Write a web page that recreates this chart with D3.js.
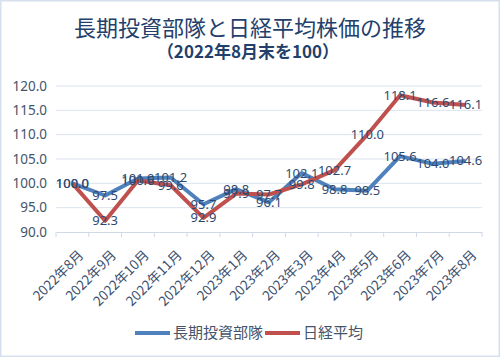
<!DOCTYPE html>
<html><head><meta charset="utf-8">
<script src="https://cdn.jsdelivr.net/npm/d3@7"></script>
<style>body{margin:0;background:#fff;}svg{display:block;font-family:"Noto Sans CJK JP","Noto Sans",sans-serif;}</style>
</head><body>
<script>
const categories = ["2022年8月","2022年9月","2022年10月","2022年11月","2022年12月","2023年1月","2023年2月","2023年3月","2023年4月","2023年5月","2023年6月","2023年7月","2023年8月"];
const longTerm = [100.0,97.5,101.0,101.2,95.7,98.8,96.1,102.1,98.8,98.5,105.6,104.0,104.6];
const nikkei = [100.0,92.3,100.6,99.6,92.9,97.9,97.7,99.8,102.7,110.0,118.1,116.6,116.1];
const yTicks = [90,95,100,105,110,115,120];
const seriesNames = ["長期投資部隊","日経平均"];
const colors = ["#4f81bd","#c0504d"];

const W=500,H=357;
const svg=d3.select("body").append("svg").attr("width",W).attr("height",H);
svg.append("rect").attr("x",0.75).attr("y",0.75).attr("width",W-1.5).attr("height",H-1.5).attr("fill","#fff").attr("stroke","#d6e0ee").attr("stroke-width",1.5);

svg.append("text").attr("x",250).attr("y",36).attr("text-anchor","middle").attr("font-size",22).attr("fill","#243f6b").text("長期投資部隊と日経平均株価の推移");
svg.append("text").attr("x",248).attr("y",58).attr("text-anchor","middle").attr("font-size",17).attr("font-weight","bold").attr("fill","#243f6b").text("（2022年8月末を100）");

const x=d3.scaleBand().domain(categories).range([56,482]);
const y=d3.scaleLinear().domain([90,120]).range([232,86]);

svg.append("g").selectAll("line").data(yTicks.filter(d=>d>90)).join("line")
 .attr("x1",56).attr("x2",482).attr("y1",d=>y(d)).attr("y2",d=>y(d)).attr("stroke","#dbe3ef").attr("stroke-width",1);

const yAxis=svg.append("g").attr("transform","translate(56,0)")
 .call(d3.axisLeft(y).tickValues(yTicks).tickFormat(d3.format(".1f")).tickSize(0).tickPadding(9));
yAxis.select(".domain").remove();
yAxis.selectAll("text").attr("font-size",13.5).attr("fill","#44546a").attr("font-family","'Noto Sans','Open Sans',sans-serif");

const xAxis=svg.append("g").attr("transform","translate(0,232)")
 .call(d3.axisBottom(x).tickSize(0).tickFormat(""));
xAxis.select(".domain").attr("stroke","#d0d9e6");
const bounds=categories.map(c=>x(c)).concat([x.range()[1]]);
svg.append("g").selectAll("line").data(bounds).join("line")
 .attr("x1",d=>d).attr("x2",d=>d).attr("y1",232).attr("y2",237).attr("stroke","#d0d9e6");
svg.append("g").selectAll("text").data(categories).join("text")
 .attr("transform",d=>`translate(${x(d)+x.bandwidth()/2+12},256) rotate(-45)`)
 .attr("text-anchor","end").attr("font-size",13.5).attr("fill","#3b4f6e").text(d=>d);

const line=d3.line().x((d,i)=>x(categories[i])+x.bandwidth()/2).y(d=>y(d));
[longTerm,nikkei].forEach((s,k)=>{
 svg.append("path").datum(s).attr("d",line).attr("fill","none").attr("stroke",colors[k]).attr("stroke-width",4).attr("stroke-linejoin","round");
});
[longTerm,nikkei].forEach((s,k)=>{
 svg.append("g").selectAll("text").data(s).join("text")
  .attr("x",(d,i)=>x(categories[i])+x.bandwidth()/2).attr("y",d=>y(d)+4.5)
  .attr("text-anchor","middle").attr("font-size",13).attr("fill","#2f4a70").attr("font-family","'Noto Sans','Open Sans',sans-serif")
  .text(d=>d3.format(".1f")(d));
});

const lg=svg.append("g");
lg.append("line").attr("x1",135).attr("x2",170).attr("y1",333).attr("y2",333).attr("stroke",colors[0]).attr("stroke-width",4);
lg.append("text").attr("x",173).attr("y",338).attr("font-size",15).attr("fill","#44546a").text(seriesNames[0]);
lg.append("line").attr("x1",265).attr("x2",300).attr("y1",333).attr("y2",333).attr("stroke",colors[1]).attr("stroke-width",4);
lg.append("text").attr("x",303).attr("y",338).attr("font-size",15).attr("fill","#44546a").text(seriesNames[1]);
</script>
</body></html>
